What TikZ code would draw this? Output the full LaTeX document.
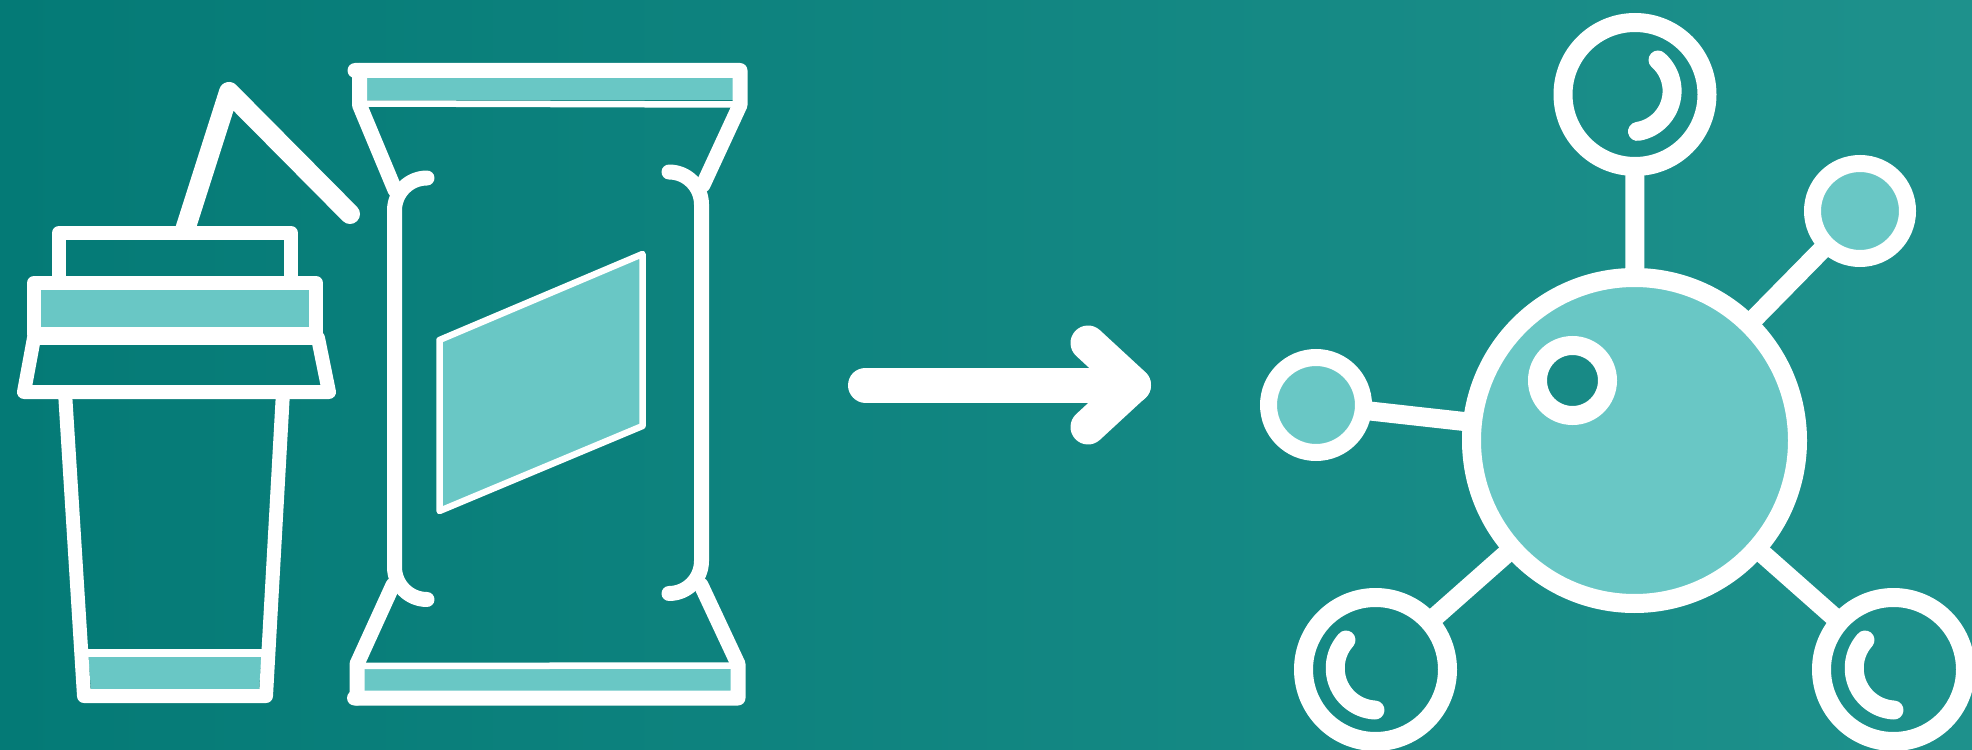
\documentclass[tikz,border=0pt]{standalone}
\usepackage{tikz}
\usetikzlibrary{positioning}
\definecolor{mydark}{HTML}{047A76}
\definecolor{mylight}{HTML}{1E918C}
\definecolor{myhole}{HTML}{188A86}
\definecolor{myteal}{HTML}{69C7C5}
\tikzset{
	cupline/.style={
			draw=white,
			line width=1.4mm,
			line cap=round,
			line join=round
		},
	strawline/.style={
			cupline,
			line width=2mm
		},
	bagline/.style={
			cupline,
			line width=1.5mm
		},
	thinline/.style={
			cupline,
			line width=0.65mm
		},
	arrowline/.style={
			cupline,
			line width=3.5mm
		},
	ringnode/.style={
			circle,
			draw=white,
			fill=none,
			line width=1.9mm,
			minimum size=14.4mm,
			inner sep=0pt
		},
	smallnode/.style={
			ringnode,
			fill=myteal,
			line width=1.7mm,
			minimum size=9.5mm
		},
	hubnode/.style={
			ringnode,
			fill=myteal,
			minimum size=32.6mm
		},
	holenode/.style={
			ringnode,
			fill=myhole,
			minimum size=7mm
		},
	linkline/.style={
			draw=white,
			line width=1.9mm,
			shorten >=-0.5mm,
			shorten <=-0.5mm
		},
	shineline/.style={
			cupline,
			line width=1.9mm
		}
}
\begin{document}
\begin{tikzpicture}[x=0.1mm, y=-0.1mm]
\useasboundingbox (0,0) rectangle (1972,750);
\clip (0,0) rectangle (1972,750);
\fill[left color=mydark, right color=mylight] (0,0) rectangle (1972,750);

\draw[strawline] (185,230) -- (229,92) -- (350,214);
\draw[cupline] (59,283) -- (59,233) -- (291,233) -- (291,283);
\draw[cupline, fill=myteal] (34,283) rectangle (316,334);
\draw[cupline] (34,338) -- (24,392) -- (329,392) -- (318,338) -- cycle;
\fill[myteal] (88,653) -- (91,689) -- (259,689) -- (262,653) -- cycle;
\draw[cupline] (65,392) -- (84,696) -- (266,696) -- (283,392);
\draw[cupline, line width=0.75mm] (86,653) -- (264,653);

\fill[myteal] (367,78) rectangle (733,100);
\draw[bagline] (355,70.5) -- (740,70.5) -- (740,105) -- (703,185);
\draw[bagline] (359.5,70.5) -- (359.5,105) -- (395,190);
\draw[thinline] (361,103.5) -- (738,104.5);
\draw[bagline] (427,178) arc[start angle=-90, end angle=-180, radius=32.5] -- (394.5,567) arc[start angle=180, end angle=90, radius=32.5];
\draw[bagline] (669,172) arc[start angle=-90, end angle=0, radius=32.5] -- (701.5,561) arc[start angle=0, end angle=90, radius=32.5];
\fill[myteal] (364,669) rectangle (732,691);
\draw[bagline] (393,585) -- (357,664) -- (357,698);
\draw[bagline] (354.5,698) -- (738,698) -- (738,664) -- (701,585);
\draw[thinline] (359,666) -- (736,665.5);
\draw[thinline, fill=myteal] (439.5,340) -- (642.5,254) -- (642.5,426) -- (439.5,511) -- cycle;

\coordinate (a1) at (865.5,385);
\coordinate (a2) at (1133.5,385);
\coordinate (a3) at (1088,343);
\coordinate (a4) at (1088,427);
\draw[arrowline] (a1) -- (a2);
\draw[arrowline] (a3) -- (a2) -- (a4);

\node[hubnode] (n1) at (1634.5,440.5) {};
\node[holenode] (n2) at (1572.5,380.5) {};
\node[ringnode] (n3) at (1635,94.5) {};
\node[smallnode] (n4) at (1860,211) {};
\node[smallnode] (n5) at (1316,405) {};
\node[ringnode] (n6) at (1375.5,669.5) {};
\node[ringnode] (n7) at (1893.5,669.5) {};

\draw[linkline] (n1) -- (n3);
\draw[linkline] (n1) -- (n4);
\draw[linkline] (n1) -- (n5);
\draw[linkline] (n1) -- (n6);
\draw[linkline] (n1) -- (n7);

\draw[shineline] (1658,60) arc[start angle=-49, end angle=81, radius=41];
\draw[shineline] (1346,640) arc[start angle=222, end angle=93, radius=42];
\draw[shineline] (1865,640) arc[start angle=222, end angle=93, radius=42];
\end{tikzpicture}
\end{document}
